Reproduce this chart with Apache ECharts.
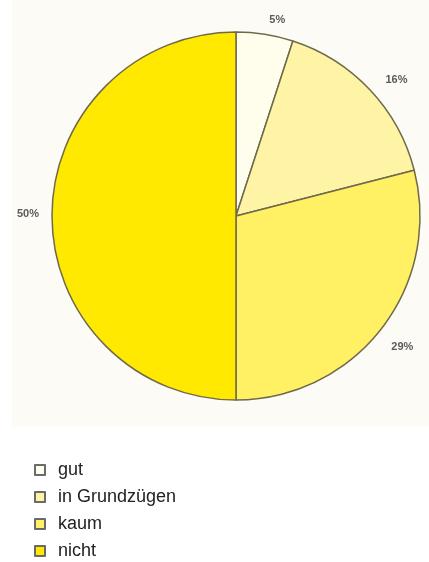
<!DOCTYPE html>
<html>
<head>
<meta charset="utf-8">
<script src="https://cdn.jsdelivr.net/npm/echarts@6/dist/echarts.min.js"></script>
<style>
html,body{margin:0;padding:0;background:#fff;}
#chart{width:429px;height:562px;}
</style>
</head>
<body>
<div id="chart"></div>
<script>
const categories = ['gut', 'in Grundzügen', 'kaum', 'nicht'];
const values = [5, 16, 29, 50];
const colors = ['#FFFDEB', '#FFF4A6', '#FFF064', '#FFE900'];

const labelOffsets = [[-2, -4], [3, -3], [-3, 12], [2, -2]];

const chart = echarts.init(document.getElementById('chart'), null, {renderer: 'canvas'});
chart.setOption({
  backgroundColor: '#ffffff',
  animation: false,
  graphic: [{
    type: 'rect', z: -10, silent: true,
    shape: {x: 12, y: 0, width: 417, height: 427},
    style: {fill: '#fcfbf6'}
  }],
  legend: {
    orient: 'vertical',
    left: 34,
    top: 461,
    padding: 0,
    height: 101,
    itemWidth: 10,
    itemHeight: 10,
    itemGap: 9,
    icon: 'rect',
    itemStyle: {borderColor: '#6a6a6a', borderWidth: 2},
    textStyle: {fontSize: 18, lineHeight: 18, color: '#222', fontFamily: 'Liberation Sans, Arial, sans-serif', padding: [0, 0, 0, 8]},
    data: categories
  },
  series: [{
    type: 'pie',
    center: [236, 216],
    radius: 184,
    startAngle: 90,
    clockwise: true,
    avoidLabelOverlap: false,
    itemStyle: {borderColor: '#6f6a4a', borderWidth: 1.5},
    label: {
      show: true,
      position: 'outside',
      formatter: p => p.value + '%',
      fontSize: 11,
      fontWeight: 'bold',
      color: '#5a5a5a',
      fontFamily: 'Liberation Sans, Arial, sans-serif'
    },
    labelLine: {show: false, length: 10, length2: 0},
    emphasis: {disabled: true},
    data: categories.map((c, i) => ({
      name: c, value: values[i],
      itemStyle: {color: colors[i]},
      label: {offset: labelOffsets[i]}
    }))
  }]
});
</script>
</body>
</html>
